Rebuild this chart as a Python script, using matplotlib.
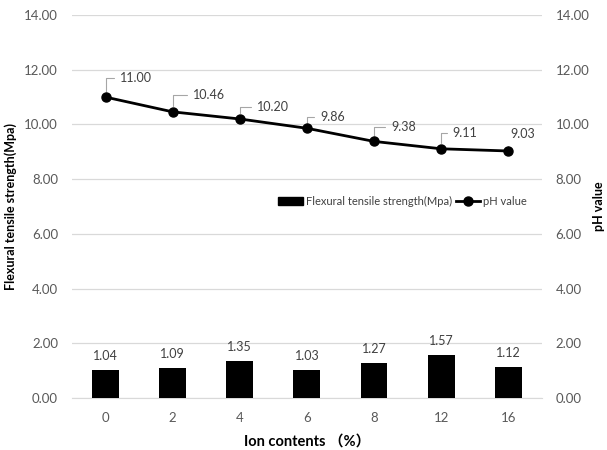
import matplotlib
matplotlib.use('Agg')
import matplotlib.pyplot as plt
from matplotlib.lines import Line2D
from matplotlib.patches import Patch

plt.rcParams['font.family'] = ['Lato', 'Noto Sans CJK SC', 'DejaVu Sans']

# data
ion_contents = ['0', '2', '4', '6', '8', '12', '16']
strength = [1.04, 1.09, 1.35, 1.03, 1.27, 1.57, 1.12]
ph_value = [11.00, 10.46, 10.20, 9.86, 9.38, 9.11, 9.03]
y_ticks = [0, 2, 4, 6, 8, 10, 12, 14]

# label offsets in pixels for pH data labels (text position relative to point)
ph_offsets = [(14, 19), (20, 17), (17, 12), (13, 11), (17, 14), (11, 16), (2, 17)]

fig = plt.figure(figsize=(6.07, 4.5), dpi=100)
ax = fig.add_axes([0.1186, 0.1156, 0.774, 0.851])
ax2 = ax.twinx()

x = list(range(len(ion_contents)))
tick_col = '#595959'
grid_col = '#d9d9d9'

ax.bar(x, strength, width=0.4, color='black', zorder=3)
for xi, v in zip(x, strength):
    ax.annotate('%.2f' % v, (xi, v), xytext=(0, 8), textcoords='offset pixels',
                ha='center', va='bottom', fontsize=9, color='#404040')

ax.set_xlim(-0.5, len(x) - 0.5)
ax.set_ylim(0, 14)
ax.set_yticks(y_ticks)
ax.set_yticklabels(['%.2f' % t for t in y_ticks])
ax.set_xticks(x)
ax.set_xticklabels(ion_contents)
ax.grid(axis='y', color=grid_col, lw=0.9, zorder=0)
ax.set_axisbelow(True)
for s in ['top', 'left', 'right']:
    ax.spines[s].set_visible(False)
ax.spines['bottom'].set_color(grid_col)
ax.tick_params(axis='both', length=0, labelsize=9.5, colors=tick_col, pad=10)
ax.set_ylabel('Flexural tensile strength(Mpa)', fontsize=9, fontweight='bold')
ax.yaxis.set_label_coords(-0.117, 0.5)
ax.set_xlabel('Ion contents （%）', fontsize=10.5, fontweight='bold', labelpad=8)

ax2.plot(x, ph_value, color='black', lw=2, marker='o', markersize=6.5, zorder=4)
for xi, v, off in zip(x, ph_value, ph_offsets):
    ax2.annotate('%.2f' % v, (xi, v), xytext=off, textcoords='offset pixels',
                 ha='left', va='center', fontsize=9, color='#404040',
                 arrowprops=dict(arrowstyle='-', color='#a6a6a6', lw=0.8,
                                 shrinkA=2, shrinkB=4,
                                 connectionstyle='angle,angleA=0,angleB=90,rad=0'))
ax2.set_ylim(0, 14)
ax2.set_yticks(y_ticks)
ax2.set_yticklabels(['%.2f' % t for t in y_ticks])
for s in ['top', 'left', 'right', 'bottom']:
    ax2.spines[s].set_visible(False)
ax2.tick_params(axis='y', length=0, labelsize=9.5, colors=tick_col, pad=10)
ax2.set_ylabel('pH value', fontsize=9, fontweight='bold')
ax2.yaxis.set_label_coords(1.11, 0.5)

handles = [Patch(facecolor='black', edgecolor='black'),
           Line2D([0], [0], color='black', lw=2, marker='o', markersize=6.5)]
fig.legend(handles, ['Flexural tensile strength(Mpa)', 'pH value'],
           loc='center right', bbox_to_anchor=(0.885, 0.553), ncol=2, frameon=False,
           fontsize=8, handlelength=2.2, handleheight=0.7, columnspacing=0.3,
           handletextpad=0.3, labelcolor='#404040')

fig.savefig('out.png', dpi=100)
